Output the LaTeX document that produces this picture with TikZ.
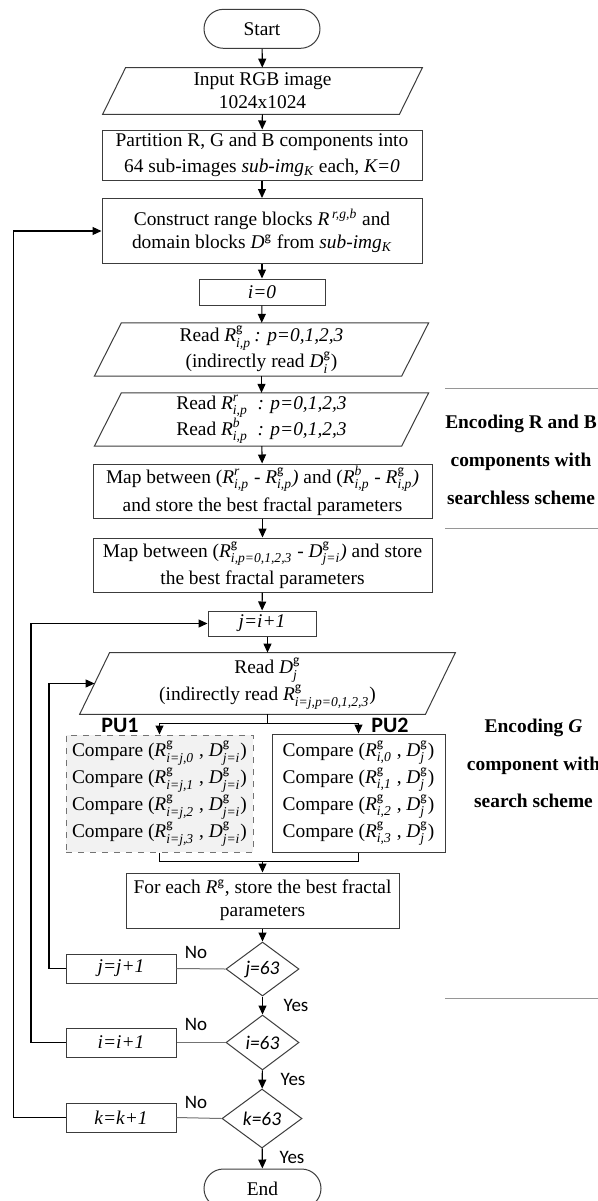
\documentclass[tikz,border=0pt]{standalone}
\usepackage{amsmath}
\usepackage{fontspec}
\setmainfont{Liberation Serif}
\newfontfamily\carl{Carlito}
\usetikzlibrary{arrows.meta,shapes.geometric,calc}
\newcommand\Rg[1]{\ensuremath{\textit{R}^{\text{\carl g}}_{\textit{#1}}}}
\newcommand\Dg[1]{\ensuremath{\textit{D}^{\text{\carl g}}_{\textit{#1}}}}
\newcommand\Rx[2]{\ensuremath{\textit{R}^{\textit{#1}}_{\textit{#2}}}}
\newcommand\myfs{\fontsize{9.7}{13}\selectfont}
\newcommand\drawpara[2]{\draw[boxline] ($(#1.north west)+(#2,0)$) -- ($(#1.north east)+(#2,0)$) -- ($(#1.south east)-(#2,0)$) -- ($(#1.south west)-(#2,0)$) -- cycle;}
\definecolor{boxc}{RGB}{60,60,60}
\definecolor{sepc}{RGB}{150,150,150}
\definecolor{pufill}{RGB}{242,242,242}
\tikzset{
  boxline/.style={draw=boxc, line width=0.5pt},
  box/.style={draw=boxc, line width=0.5pt, fill=white, inner sep=0pt, align=center, font=\myfs},
  pbody/.style={inner sep=0pt, align=center, font=\myfs},
  arr/.style={-{Triangle[length=4.5pt,width=4pt]}, line width=0.55pt, draw=black},
  dia/.style={diamond, draw=boxc, line width=0.5pt, inner sep=0pt, font=\carl\itshape\fontsize{9.7}{11}\selectfont},
  noline/.style={draw=black!55, line width=0.5pt},
  lbl/.style={inner sep=0pt, font=\carl\fontsize{9.5}{11}\selectfont},
  side/.style={inner sep=0pt, align=center, font=\bfseries\fontsize{9.7}{19}\selectfont},
}
\begin{document}
\begin{tikzpicture}[x=0.5pt,y=-0.5pt]
\fill[white] (0,0) rectangle (598,1201);
\useasboundingbox (0,0) rectangle (598,1201);
\clip (0,0) rectangle (598,1201);

% nodes
\node[box, rounded corners=9.75pt, minimum width=58pt, minimum height=19.5pt] (start) at (262,28.8) {Start};
\node[pbody, minimum width=148pt, minimum height=23pt, font=\fontsize{9.7}{11.5}\selectfont] (in) at (262.5,91) {Input RGB image\\1024x1024};
\drawpara{in}{11.5}
\node[box, minimum width=160pt, minimum height=25pt] (part) at (262,155) {Partition R, G and B components into\\64 sub-images \textit{sub-img}$_{\textit{K}}$ each, \textit{K=0}};
\node[box, minimum width=160pt, minimum height=32.5pt, font=\fontsize{9.7}{11.5}\selectfont] (cons) at (262,231) {Construct range blocks \textit{R}$^{\,\textit{r,g,b}}$ and\\domain blocks \textit{D}$^{\text{\carl g}}$ from \textit{sub-img}$_{\textit{K}}$};
\node[box, minimum width=63pt, minimum height=13pt] (i0) at (262,292) {\textit{i=0}};
\node[pbody, minimum width=153.25pt, minimum height=26.25pt, font=\fontsize{9.7}{12}\selectfont] (rg) at (261.5,349.5) {Read \Rg{i,p}\,\textit{: p=0,1,2,3}\\(indirectly read \Dg{i})};
\drawpara{rg}{13.5}
\node[pbody, minimum width=153.25pt, minimum height=26.25pt, font=\fontsize{9.7}{13}\selectfont] (rrb) at (261.5,419.5) {Read \Rx{r}{i,p}\ \ \textit{: p=0,1,2,3}\\Read \Rx{b}{i,p}\ \ \textit{: p=0,1,2,3}};
\drawpara{rrb}{13.5}
\node[box, minimum width=169.5pt, minimum height=27pt, font=\fontsize{9.7}{14}\selectfont] (map1) at (262.5,491) {Map between (\Rx{r}{i,p} - \Rg{i,p}\textit{)} and (\Rx{b}{i,p} - \Rg{i,p}\textit{)}\\and store the best fractal parameters};
\node[box, minimum width=169.5pt, minimum height=27pt, font=\fontsize{9.7}{13.5}\selectfont] (map2) at (262.5,565) {Map between (\Rg{i,p=0,1,2,3} - \Dg{j=i}\textit{)} and store\\the best fractal parameters};
\node[box, minimum width=54pt, minimum height=12.5pt] (ji) at (262,623.5) {\textit{j=i+1}};
\node[pbody, minimum width=172.5pt, minimum height=30.5pt, font=\fontsize{9.7}{13.5}\selectfont] (rd) at (267.5,683.5) {Read \Dg{j}\\(indirectly read \Rg{i=j,p=0,1,2,3})};
\drawpara{rd}{15}
\node[box, draw=black!55, dashed, fill=pufill, minimum width=93.5pt, minimum height=58.5pt, font=\fontsize{9.7}{13.5}\selectfont] (pu1) at (159.5,793.5) {Compare (\Rg{i=j,0} , \Dg{j=i})\\Compare (\Rg{i=j,1} , \Dg{j=i})\\Compare (\Rg{i=j,2} , \Dg{j=i})\\Compare (\Rg{i=j,3} , \Dg{j=i})};
\node[box, minimum width=86.5pt, minimum height=59pt, font=\fontsize{9.7}{13.5}\selectfont] (pu2) at (358.5,793) {Compare (\Rg{i,0} , \Dg{j})\\Compare (\Rg{i,1} , \Dg{j})\\Compare (\Rg{i,2} , \Dg{j})\\Compare (\Rg{i,3} , \Dg{j})};
\node[inner sep=0pt, font=\carl\bfseries\fontsize{11}{13}\selectfont] (pu1l) at (120,725) {PU1};
\node[inner sep=0pt, font=\carl\bfseries\fontsize{11}{13}\selectfont] (pu2l) at (390,725) {PU2};
\node[box, minimum width=136.5pt, minimum height=27.5pt, font=\fontsize{9.7}{11.5}\selectfont] (fe) at (262.5,900.5) {For each \textit{R}$^{\text{\carl g}}$, store the best fractal\\parameters};
\node[dia, minimum width=36.5pt, minimum height=27pt] (dj) at (262.5,969) {j=63};
\node[box, minimum width=55pt, minimum height=14.5pt] (jj) at (121,968.5) {\textit{j=j+1}};
\node[dia, minimum width=36.5pt, minimum height=27.5pt] (di) at (262.5,1042.5) {i=63};
\node[box, minimum width=55pt, minimum height=14.5pt] (ii) at (121,1042.5) {\textit{i=i+1}};
\node[dia, minimum width=40pt, minimum height=29.5pt] (dk) at (262,1118.5) {k=63};
\node[box, minimum width=55pt, minimum height=14.5pt] (kk) at (121,1117.5) {\textit{k=k+1}};
\node[box, rounded corners=9.75pt, minimum width=58.5pt, minimum height=19.5pt] (end) at (262.5,1188.5) {End};

% labels
\node[lbl] (no1) at (196,952) {No};
\node[lbl] (no2) at (196,1024) {No};
\node[lbl] (no3) at (196,1102) {No};
\node[lbl] (yes1) at (296,1005) {Yes};
\node[lbl] (yes2) at (293,1079) {Yes};
\node[lbl] (yes3) at (292,1157) {Yes};

% side annotations
\node[side] (encrb) at (521,460) {Encoding R and B\\components with\\searchless scheme};
\node[side, font=\bfseries\fontsize{9.7}{18.75}\selectfont] (encg) at (533.5,763.5) {Encoding \textit{G}\\component with\\search scheme};
\draw[sepc, line width=0.5pt] (445,388) -- (598,388);
\draw[sepc, line width=0.5pt] (445,528) -- (598,528);
\draw[sepc, line width=0.5pt] (445,998) -- (598,998);

% main flow
\draw[arr] (start) -- (in);
\draw[arr] (in) -- (part);
\draw[arr] (part) -- (cons);
\draw[arr] (cons) -- (i0);
\draw[arr] (i0) -- (rg);
\draw[arr] (rg) -- (rrb);
\draw[arr] (rrb) -- (map1);
\draw[arr] (map1) -- (map2);
\draw[arr] (map2) -- (ji);
\draw[arr] (rd.north|-ji.south) -- (rd.north);
\coordinate (sp) at (267.5,723);
\draw[line width=0.5pt] (rd.south) -- (sp);
\draw[arr, line width=0.5pt] (sp) -| (pu1.north);
\draw[arr, line width=0.5pt] (sp) -| (pu2.north);
\coordinate (mg) at (262.5,861);
\draw[line width=0.5pt] (pu1.south) |- (mg) -| (pu2.south);
\draw[arr] (mg) -- (fe.north);
\draw[arr] (fe) -- (dj);
\draw[arr] (dj) -- (di);
\draw[arr] (di) -- (dk);
\draw[arr] (dk) -- (end);

% loops
\draw[noline] (dj.west) -- (jj.east);
\draw[noline] (di.west) -- (ii.east);
\draw[noline] (dk.west) -- (kk.east);
\coordinate (cj) at (49,0);
\coordinate (ci) at (31,0);
\coordinate (ck) at (13.5,0);
\draw[arr] (jj.west) -- (jj.west-|cj) |- (rd.west);
\draw[arr] (ii.west) -- (ii.west-|ci) |- (ji.west);
\draw[arr] (kk.west) -- (kk.west-|ck) |- (cons.west);
\end{tikzpicture}
\end{document}
